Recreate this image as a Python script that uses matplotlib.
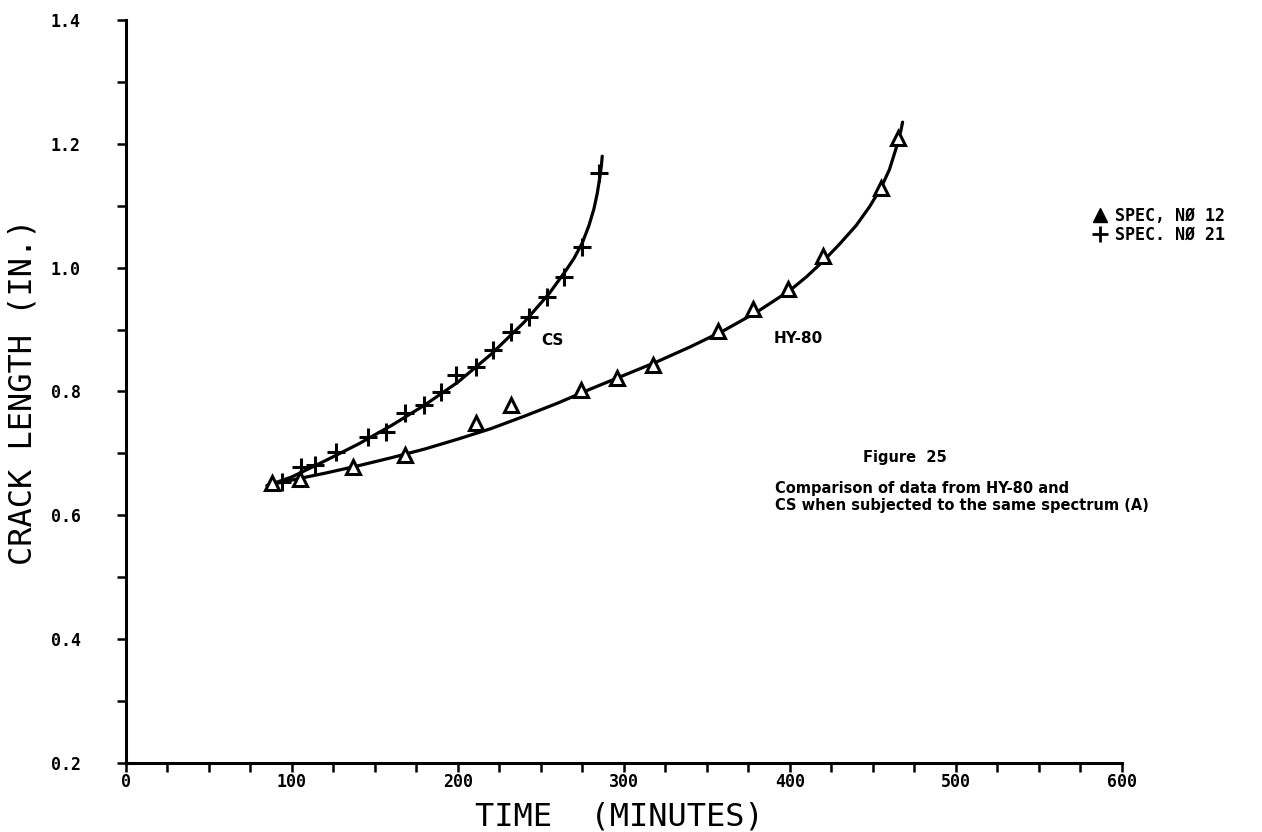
import matplotlib.pyplot as plt
from matplotlib.lines import Line2D
import numpy as np

# Data: time (minutes) vs crack length (in.)
cs_time = [94, 105.5, 114, 126.5, 146, 157, 168, 179.5, 190, 199, 211, 221, 232, 243, 253.5, 264, 275, 285]
cs_length = [0.654, 0.678, 0.681, 0.702, 0.726, 0.734, 0.765, 0.778, 0.799, 0.826, 0.839, 0.867, 0.896, 0.920, 0.953, 0.985, 1.033, 1.153]

hy_time = [88, 105, 137, 168, 211, 232, 274.5, 296, 317.5, 357, 378, 399, 420, 455, 465]
hy_length = [0.652, 0.658, 0.678, 0.697, 0.749, 0.778, 0.803, 0.822, 0.843, 0.898, 0.933, 0.966, 1.018, 1.129, 1.209]

# Hand-drawn fit curves
cs_fit_time = [85, 100, 120, 140, 160, 180, 200, 220, 240, 255, 265, 270, 275, 279, 282, 284, 285.5, 286.5, 287]
cs_fit_length = [0.648, 0.662, 0.688, 0.715, 0.745, 0.778, 0.815, 0.860, 0.912, 0.958, 0.995, 1.015, 1.040,
                 1.068, 1.095, 1.120, 1.145, 1.165, 1.180]

hy_fit_time = [85, 100, 120, 140, 160, 180, 200, 220, 240, 260, 280, 300, 320, 340, 360, 380, 400,
               410, 420, 430, 440, 448, 455, 460, 464, 467, 468]
hy_fit_length = [0.648, 0.657, 0.668, 0.680, 0.693, 0.707, 0.723, 0.740, 0.760, 0.781, 0.804, 0.826, 0.848,
                 0.872, 0.898, 0.928, 0.963, 0.985, 1.010, 1.038, 1.068, 1.098, 1.129, 1.158, 1.192, 1.222, 1.235]

legend_labels = ['SPEC, NØ 12', 'SPEC. NØ 21']

#-----------------------------------------------------------------------------------------------------------------------
fig = plt.figure(figsize=(12.62, 8.32), dpi=100)
ax = fig.add_axes([0.0998, 0.083, 0.789, 0.893])

ax.plot(cs_fit_time, cs_fit_length, color='black', lw=2.3, solid_capstyle='round', solid_joinstyle='round')
ax.plot(hy_fit_time, hy_fit_length, color='black', lw=2.3, solid_capstyle='round', solid_joinstyle='round')

ax.plot(cs_time, cs_length, ls='none', marker='+', ms=13, mew=2.2, color='black')
ax.plot(hy_time, hy_length, ls='none', marker='^', ms=10.5, mew=2.2, mfc='white', mec='black')

ax.set_xlim(0, 600)
ax.set_ylim(0.2, 1.4)

ax.spines['top'].set_visible(False)
ax.spines['right'].set_visible(False)
ax.spines['left'].set_linewidth(2.2)
ax.spines['bottom'].set_linewidth(2.2)

ax.set_xticks(np.arange(0, 601, 100))
ax.set_xticks(np.arange(0, 601, 25), minor=True)
ax.set_yticks(np.arange(0.2, 1.41, 0.2))
ax.set_yticks(np.arange(0.2, 1.41, 0.1), minor=True)
ax.set_yticklabels(['0.2', '0.4', '0.6', '0.8', '1.0', '1.2', '1.4'])

for lab in ax.get_xticklabels() + ax.get_yticklabels():
    lab.set_fontfamily('DejaVu Sans Mono')
    lab.set_fontsize(12)
    lab.set_fontweight('bold')

ax.tick_params(axis='x', which='both', direction='out', length=6.5, width=1.8, pad=1)
ax.tick_params(axis='y', which='both', direction='out', length=6.5, width=1.8, pad=26)

ax.set_xlabel('TIME  (MINUTES)', fontfamily='DejaVu Sans Mono', fontsize=23)
ax.set_ylabel('CRACK LENGTH (IN.)', fontfamily='DejaVu Sans Mono', fontsize=23)
ax.xaxis.set_label_coords(0.496, -0.052)
ax.yaxis.set_label_coords(-0.088, 0.5)

# Curve labels and caption
ax.text(257, 0.883, 'CS', fontsize=11, fontweight='bold', ha='center', va='center')
ax.text(405, 0.885, 'HY-80', fontsize=11, fontweight='bold', ha='center', va='center')
ax.text(444, 0.694, 'Figure  25', fontsize=10.5, fontweight='bold', ha='left', va='center')
ax.text(391, 0.655, 'Comparison of data from HY-80 and\nCS when subjected to the same spectrum (A)',
        fontsize=10.5, fontweight='bold', ha='left', va='top', linespacing=1.15)

handles = [Line2D([], [], ls='none', marker='^', ms=10, color='black'),
           Line2D([], [], ls='none', marker='+', ms=12, mew=2, color='black')]
ax.legend(handles, legend_labels, loc='upper left', bbox_to_anchor=(1093 / 1262, 1 - 207 / 832),
          bbox_transform=fig.transFigure, frameon=False, handlelength=0.8, handletextpad=0.5,
          labelspacing=0.05, borderpad=0, borderaxespad=0,
          prop={'family': 'DejaVu Sans Mono', 'size': 12, 'weight': 'bold'})

plt.savefig('out.png', dpi=100)
plt.close()
